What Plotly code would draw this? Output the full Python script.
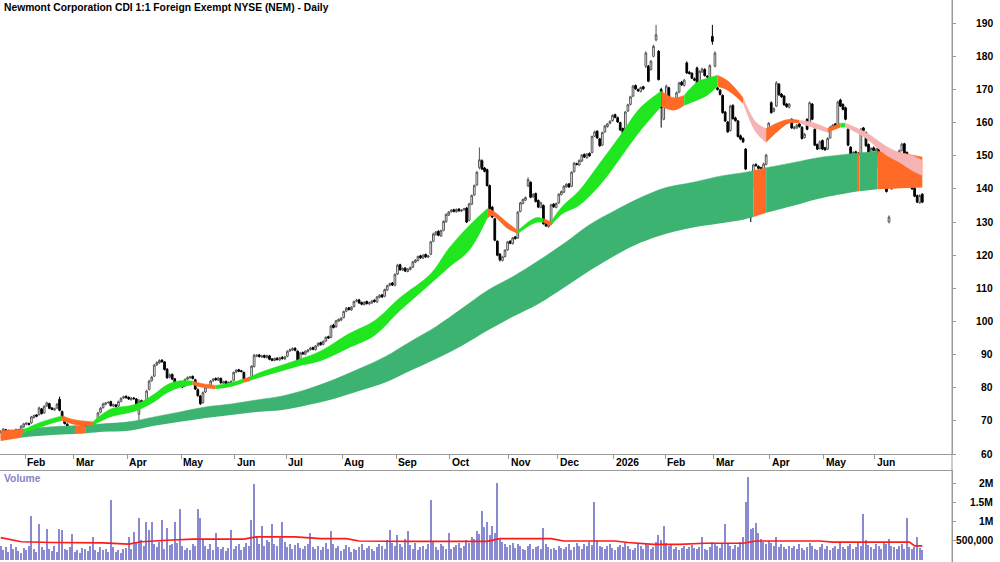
import pandas as pd
import plotly.graph_objects as go

# ---------------- data ----------------
opens = [
66.5, 66.9, 67.3, 66.5, 67.0, 66.4, 66.8, 67.3, 66.9, 68.2,
69.0, 69.2, 69.4, 71.0, 71.8, 71.9, 73.6, 72.4, 74.5, 75.2,
73.9, 73.3, 73.9, 76.5, 72.8, 70.8, 69.0, 68.2, 67.5, 68.1,
68.2, 67.9, 68.3, 68.7, 68.5, 69.1, 68.8, 69.4, 70.0, 72.6,
74.0, 75.0, 75.5, 75.8, 74.5, 74.8, 74.5, 75.9, 76.9, 77.4,
77.1, 76.4, 76.9, 76.6, 72.0, 76.1, 75.6, 75.6, 79.5, 82.2,
83.5, 86.9, 87.5, 88.3, 87.8, 85.6, 83.2, 84.0, 82.7, 81.4,
81.1, 80.8, 80.5, 82.6, 83.0, 83.4, 82.4, 79.4, 77.5, 75.5,
78.7, 80.3, 80.7, 82.1, 82.8, 82.3, 82.8, 81.4, 81.9, 81.1,
81.5, 82.2, 84.7, 85.4, 85.1, 84.6, 82.6, 82.2, 83.4, 86.4,
89.5, 89.9, 89.3, 89.7, 89.1, 89.6, 88.7, 88.2, 88.9, 88.4,
89.2, 88.7, 89.5, 91.1, 91.4, 91.9, 91.0, 88.6, 90.6, 90.1,
90.9, 91.5, 92.1, 91.5, 92.7, 93.6, 93.1, 94.1, 95.4, 95.2,
98.9, 98.4, 100.1, 100.4, 101.2, 103.1, 104.1, 103.5, 104.5, 106.1,
106.5, 105.7, 105.1, 106.0, 105.3, 105.6, 106.4, 105.9, 107.3, 108.0,
107.6, 109.5, 110.9, 111.6, 110.9, 114.3, 117.1, 115.5, 116.1, 115.1,
115.7, 116.4, 117.9, 118.4, 119.8, 119.1, 120.2, 119.4, 120.3, 124.2,
126.2, 127.2, 125.8, 127.5, 130.1, 132.1, 133.1, 133.7, 133.1, 133.9,
133.3, 133.7, 134.2, 130.5, 135.4, 138.2, 141.2, 146.5, 148.5, 146.3,
145.8, 141.0, 134.5, 131.0, 124.2, 120.3, 118.4, 119.6, 121.6, 124.2,
123.5, 125.5, 125.2, 133.2, 135.6, 136.6, 141.0, 142.0, 137.6, 138.6,
136.5, 134.4, 135.0, 129.8, 128.6, 129.6, 135.4, 134.4, 135.8, 138.3,
139.0, 140.6, 141.5, 140.8, 145.2, 147.6, 147.2, 148.4, 150.4, 149.4,
150.7, 151.0, 155.9, 157.4, 155.1, 153.2, 157.2, 158.8, 159.8, 160.6,
162.4, 161.5, 160.0, 158.2, 157.2, 163.5, 165.5, 168.0, 171.2, 170.0,
169.4, 170.8, 177.0, 177.0, 176.0, 180.0, 185.0, 181.5, 170.0, 161.0,
167.2, 170.5, 166.2, 165.4, 166.4, 169.2, 172.2, 171.2, 178.0, 175.2,
174.9, 173.2, 176.5, 167.8, 175.3, 176.0, 174.0, 173.6, 186.0, 177.0,
170.5, 169.8, 168.2, 163.2, 160.2, 157.6, 165.2, 161.4, 160.5, 156.0,
155.2, 152.0, 139.5, 137.0, 141.0, 147.4, 146.8, 146.4, 145.6, 147.4,
156.5, 166.0, 163.4, 165.0, 171.6, 168.6, 168.0, 165.6, 164.6, 161.0,
158.2, 158.4, 159.6, 158.6, 155.5, 161.0, 160.0, 165.6, 158.0, 153.4,
152.2, 154.6, 152.4, 152.0, 155.4, 158.4, 159.6, 159.0, 166.8, 165.5,
164.5, 158.0, 152.6, 149.4, 151.2, 150.8, 150.4, 158.4, 157.0, 153.4,
147.4, 152.4, 146.4, 152.4, 150.6, 149.8, 141.4, 130.0, 140.0, 145.5,
149.2, 150.4, 151.6, 153.6, 151.0, 147.2, 143.2, 140.2, 138.0, 135.8, 138.4]

highs = [
67.1, 67.8, 67.6, 67.4, 67.3, 67.1, 67.7, 67.6, 68.7, 69.4,
69.6, 69.5, 71.5, 71.9, 72.0, 74.3, 73.9, 74.7, 75.8, 75.5,
74.2, 74.0, 75.4, 77.3, 73.1, 71.2, 69.3, 68.5, 68.3, 68.6,
68.5, 68.4, 68.9, 68.9, 69.3, 69.4, 69.5, 69.9, 72.7, 74.2,
75.5, 75.7, 75.9, 76.1, 75.2, 75.1, 76.1, 77.1, 77.6, 77.7,
77.4, 77.2, 77.2, 76.9, 76.6, 76.4, 75.9, 79.4, 82.4, 83.6,
87.2, 88.0, 88.6, 88.6, 88.0, 85.9, 84.3, 84.3, 82.9, 81.7,
81.4, 81.1, 82.8, 83.4, 83.6, 83.7, 82.7, 79.8, 77.8, 78.9,
80.5, 80.9, 82.3, 82.9, 83.1, 83.2, 83.1, 82.1, 82.2, 81.9,
82.2, 84.9, 85.6, 85.7, 85.4, 84.9, 82.9, 83.3, 86.8, 90.2,
90.1, 90.2, 89.9, 90.0, 90.0, 89.9, 88.9, 89.1, 89.2, 89.3,
89.5, 89.6, 91.3, 91.8, 92.2, 92.2, 91.3, 90.8, 90.9, 91.3,
91.7, 92.3, 92.4, 92.9, 93.7, 93.9, 94.3, 95.5, 95.7, 99.0,
99.3, 100.5, 100.9, 101.3, 103.3, 104.4, 104.4, 104.6, 106.3, 106.8,
106.8, 106.0, 106.1, 106.3, 106.0, 106.5, 106.7, 107.7, 108.2, 108.3,
109.9, 111.1, 111.7, 111.9, 114.5, 117.4, 117.4, 116.3, 116.4, 116.1,
116.6, 118.3, 118.8, 119.9, 120.1, 120.3, 120.5, 120.1, 124.3, 126.8,
127.3, 127.5, 127.7, 130.5, 132.6, 133.3, 133.9, 134.0, 134.1, 134.2,
133.9, 134.3, 134.5, 135.8, 138.3, 141.3, 145.4, 152.5, 148.9, 146.6,
146.1, 141.3, 134.8, 131.3, 124.5, 120.6, 119.8, 121.8, 124.3, 124.5,
125.5, 125.8, 133.3, 136.1, 137.1, 137.7, 143.5, 142.3, 138.7, 138.9,
136.8, 136.1, 135.3, 130.1, 129.7, 135.5, 135.7, 135.9, 138.7, 139.5,
141.1, 141.7, 141.8, 145.3, 148.1, 147.9, 148.9, 150.5, 150.7, 150.8,
151.0, 156.1, 157.6, 157.7, 155.4, 157.3, 159.3, 159.9, 160.7, 162.5,
162.7, 161.8, 160.3, 158.5, 163.5, 165.7, 168.1, 171.4, 171.5, 170.3,
170.9, 171.1, 181.5, 177.4, 178.9, 183.5, 189.5, 181.9, 170.5, 167.5,
171.5, 170.8, 166.5, 166.6, 169.4, 172.3, 172.6, 173.2, 178.5, 175.6,
175.2, 173.6, 176.9, 175.8, 176.6, 176.4, 174.3, 177.6, 189.5, 181.5,
170.8, 170.1, 168.5, 163.5, 160.5, 165.4, 165.5, 161.8, 160.8, 156.4,
155.6, 152.3, 144.2, 138.0, 147.6, 147.7, 147.1, 146.7, 147.9, 150.6,
160.2, 166.4, 164.6, 172.5, 171.9, 168.9, 168.3, 165.9, 165.9, 161.3,
159.0, 159.6, 160.0, 158.9, 156.9, 161.3, 166.4, 165.9, 158.3, 153.7,
154.6, 154.9, 152.7, 155.6, 159.0, 159.6, 159.9, 166.6, 167.2, 165.8,
164.8, 158.3, 152.9, 151.4, 151.5, 151.1, 158.4, 158.7, 157.3, 153.7,
152.6, 152.8, 152.4, 152.7, 150.9, 150.1, 141.7, 132.0, 145.4, 149.4,
150.6, 151.9, 153.9, 153.9, 151.3, 147.5, 143.5, 140.5, 138.3, 138.4, 138.7]

lows = [
66.2, 66.6, 66.1, 66.3, 66.0, 66.1, 66.5, 66.4, 66.6, 67.9,
68.7, 68.6, 69.1, 70.7, 71.1, 71.6, 71.9, 72.1, 74.2, 73.5,
73.2, 73.0, 73.6, 72.9, 70.7, 68.9, 67.8, 67.3, 67.2, 67.8,
67.5, 67.6, 68.0, 68.1, 68.2, 68.4, 68.5, 69.1, 69.7, 72.3,
73.7, 74.7, 75.2, 74.3, 74.2, 74.0, 74.2, 75.6, 76.6, 76.7,
76.3, 76.1, 76.4, 74.3, 68.5, 75.2, 75.0, 75.3, 79.2, 81.8,
83.2, 86.6, 87.2, 87.5, 85.2, 82.7, 82.8, 82.3, 81.0, 80.7,
80.3, 79.9, 80.2, 82.3, 82.7, 82.5, 79.3, 77.3, 74.8, 75.2,
78.4, 80.0, 80.4, 81.8, 82.1, 82.0, 81.2, 81.1, 80.9, 80.8,
81.2, 81.9, 84.4, 84.7, 84.6, 82.2, 81.8, 81.9, 83.1, 86.1,
89.2, 89.1, 89.0, 88.9, 88.8, 88.3, 88.0, 88.0, 88.2, 88.1,
88.5, 88.4, 89.2, 90.8, 91.1, 91.0, 87.9, 88.3, 89.9, 89.8,
90.6, 91.2, 91.3, 91.2, 92.4, 92.7, 92.8, 93.8, 94.7, 94.9,
97.9, 98.1, 99.8, 100.1, 100.9, 102.8, 103.3, 103.2, 104.2, 105.8,
105.3, 104.9, 104.8, 105.1, 105.0, 105.3, 105.7, 105.6, 107.0, 107.1,
107.3, 109.2, 110.6, 110.7, 110.6, 114.0, 115.3, 115.2, 114.9, 114.8,
115.4, 116.1, 117.6, 118.1, 118.9, 118.8, 119.2, 119.1, 120.0, 123.9,
125.9, 125.7, 125.5, 127.2, 129.8, 131.8, 132.8, 132.9, 132.8, 133.1,
133.0, 133.4, 129.7, 130.2, 135.1, 137.9, 140.9, 145.9, 145.7, 145.0,
140.7, 133.7, 131.2, 124.2, 119.7, 118.1, 118.1, 119.3, 121.3, 123.3,
123.2, 124.7, 124.9, 132.9, 135.3, 136.3, 140.5, 137.2, 137.3, 135.9,
134.2, 134.1, 129.2, 128.5, 128.3, 129.3, 134.3, 134.1, 135.5, 138.0,
138.7, 140.3, 140.3, 140.5, 144.9, 147.1, 146.9, 148.1, 149.3, 149.1,
149.7, 150.7, 155.6, 155.1, 152.7, 152.9, 156.9, 158.5, 159.5, 160.3,
161.3, 159.9, 157.5, 156.7, 156.9, 163.2, 165.2, 167.7, 169.9, 169.3,
169.1, 169.9, 176.5, 172.2, 175.7, 179.7, 184.5, 172.7, 158.5, 160.7,
166.9, 165.7, 165.3, 165.1, 166.1, 168.9, 171.1, 170.9, 174.7, 174.5,
173.1, 172.5, 167.2, 167.5, 175.0, 173.9, 173.5, 173.3, 183.5, 176.7,
169.7, 168.2, 162.7, 160.2, 156.9, 157.3, 160.9, 160.3, 155.5, 154.7,
153.9, 145.7, 139.2, 130.0, 140.7, 146.7, 145.9, 145.5, 145.3, 147.1,
156.2, 162.7, 163.1, 164.7, 168.1, 167.5, 165.1, 164.5, 164.3, 158.1,
157.9, 158.1, 158.5, 154.9, 155.2, 157.7, 159.7, 160.7, 152.9, 151.7,
151.9, 151.7, 151.5, 151.7, 155.1, 158.1, 158.5, 158.7, 164.7, 163.7,
160.7, 152.9, 148.9, 149.1, 150.3, 149.9, 150.1, 157.3, 152.7, 146.7,
147.1, 151.3, 146.1, 150.1, 149.7, 140.7, 138.9, 129.6, 139.7, 145.2,
148.9, 150.1, 151.3, 149.7, 146.7, 142.7, 139.7, 137.5, 135.7, 135.5, 135.7]

closes = [
66.8, 67.5, 66.4, 67.1, 66.3, 66.9, 67.4, 66.7, 68.4, 69.1,
69.3, 68.9, 71.2, 71.6, 71.4, 73.9, 72.2, 74.4, 75.4, 73.8,
73.5, 73.7, 75.0, 73.2, 71.0, 69.2, 68.1, 67.6, 68.0, 68.3,
67.8, 68.2, 68.6, 68.4, 69.0, 68.7, 69.3, 69.6, 72.4, 73.8,
75.1, 75.4, 75.6, 74.6, 74.9, 74.3, 75.8, 76.8, 77.3, 77.0,
76.6, 76.9, 76.7, 74.6, 76.0, 75.5, 75.3, 79.0, 82.0, 83.2,
86.8, 87.6, 88.2, 87.9, 85.5, 83.0, 83.9, 82.6, 81.3, 81.0,
80.6, 80.2, 82.5, 83.1, 83.3, 82.8, 79.6, 77.6, 75.2, 78.5,
80.2, 80.6, 82.0, 82.6, 82.4, 82.9, 81.5, 81.8, 81.2, 81.6,
81.9, 84.6, 85.3, 85.0, 84.9, 82.5, 82.1, 83.0, 86.5, 89.8,
89.8, 89.4, 89.6, 89.2, 89.7, 88.6, 88.3, 88.8, 88.5, 89.0,
88.8, 89.3, 91.0, 91.5, 91.8, 91.3, 88.2, 90.5, 90.2, 91.0,
91.4, 92.0, 91.6, 92.6, 93.4, 93.0, 94.0, 95.2, 95.0, 98.6,
98.2, 100.2, 100.6, 101.0, 103.0, 104.0, 103.6, 104.3, 106.0, 106.4,
105.6, 105.2, 105.8, 105.4, 105.7, 106.2, 106.0, 107.4, 107.9, 107.4,
109.6, 110.8, 111.4, 111.0, 114.2, 117.0, 115.6, 116.0, 115.2, 115.8,
116.3, 118.0, 118.5, 119.6, 119.2, 120.0, 119.5, 119.8, 124.0, 126.4,
127.0, 126.0, 127.4, 130.2, 132.3, 133.0, 133.6, 133.2, 133.8, 133.4,
133.6, 134.0, 130.0, 135.5, 138.0, 141.0, 145.0, 148.8, 146.0, 145.3,
141.0, 134.0, 131.5, 124.5, 120.0, 118.6, 119.5, 121.5, 124.0, 123.6,
125.2, 125.0, 133.0, 135.8, 136.8, 137.4, 142.8, 137.5, 138.4, 136.2,
134.5, 135.8, 129.5, 128.8, 129.4, 135.2, 134.6, 135.6, 138.4, 139.2,
140.8, 141.4, 140.6, 145.0, 147.8, 147.4, 148.6, 150.2, 149.6, 150.5,
150.0, 155.8, 157.2, 155.4, 153.0, 157.0, 159.0, 159.6, 160.4, 162.2,
161.6, 160.2, 157.8, 157.0, 163.2, 165.4, 167.8, 171.0, 170.2, 169.6,
170.6, 170.2, 181.0, 172.5, 178.5, 183.0, 186.5, 173.0, 164.5, 167.0,
171.0, 166.0, 165.6, 166.2, 169.0, 172.0, 171.4, 172.8, 175.0, 174.8,
173.4, 172.8, 167.5, 175.5, 176.2, 174.2, 173.8, 177.2, 184.5, 181.0,
170.0, 168.5, 163.0, 160.5, 157.2, 165.0, 161.2, 160.6, 155.8, 155.0,
154.2, 146.0, 143.8, 131.5, 147.2, 147.0, 146.2, 145.8, 147.5, 150.2,
159.8, 163.0, 164.2, 172.0, 168.4, 167.8, 165.4, 164.8, 165.6, 158.4,
158.6, 159.2, 158.8, 155.2, 156.5, 158.0, 166.0, 161.0, 153.2, 152.0,
154.2, 152.0, 151.8, 155.2, 158.6, 159.2, 158.8, 166.2, 165.0, 164.0,
161.0, 153.2, 149.2, 151.0, 150.6, 150.2, 158.0, 157.6, 153.0, 147.0,
152.2, 151.6, 152.0, 150.4, 150.0, 141.0, 139.2, 131.5, 145.0, 149.0,
150.2, 151.5, 153.5, 150.0, 147.0, 143.0, 140.0, 137.8, 136.0, 138.0, 136.0]

# daily volume, thousands of shares
volume_k = [
380, 260, 330, 210, 420, 300, 350, 240, 180, 310,
270, 360, 1160, 290, 220, 950, 330, 260, 820, 300,
240, 380, 210, 820, 800, 300, 260, 340, 680, 220,
250, 190, 310, 280, 230, 360, 600, 270, 200, 330,
260, 300, 220, 1580, 340, 210, 250, 180, 290, 320,
600, 280, 730, 450, 1100, 520, 380, 1000, 800, 1000,
420, 350, 480, 1050, 300, 850, 390, 410, 1000, 460,
1340, 380, 250, 320, 270, 430, 360, 1340, 1100, 520,
380, 300, 420, 260, 700, 330, 280, 350, 240, 310,
800, 290, 360, 410, 270, 330, 450, 380, 1050, 2000,
620, 430, 900, 380, 520, 470, 950, 410, 360, 580,
1000, 480, 350, 420, 300, 390, 440, 320, 280, 360,
410, 700, 330, 290, 380, 260, 340, 450, 300, 750,
420, 310, 360, 240, 280, 390, 330, 220, 300, 270,
350, 410, 260, 310, 380, 290, 240, 330, 420, 360,
300, 520, 800, 460, 380, 650, 420, 350, 540, 750,
390, 300, 450, 260, 340, 380, 290, 410, 1580, 480,
330, 270, 420, 360, 300, 700, 280, 340, 390, 450,
310, 380, 520, 440, 600, 560, 750, 680, 1300, 880,
1000, 650, 900, 720, 2030, 560, 480, 420, 350, 390,
460, 310, 420, 380, 300, 270, 360, 410, 290, 330,
380, 300, 850, 420, 340, 280, 320, 260, 370, 310,
290, 350, 410, 270, 330, 460, 380, 300, 420, 360,
480, 400, 1520, 520, 380, 340, 290, 360, 420, 310,
270, 350, 400, 330, 460, 380, 300, 250, 320, 410,
360, 280, 420, 390, 300, 350, 480, 650, 520, 900,
460, 380, 420, 300, 340, 260, 310, 370, 290, 350,
400, 320, 280, 340, 600, 300, 260, 350, 480, 420,
380, 310, 450, 950, 420, 360, 290, 400, 330, 480,
600, 1520, 2180, 820, 850, 970, 700, 560, 480, 420,
510, 440, 380, 600, 350, 410, 330, 290, 380, 320,
360, 280, 420, 310, 260, 340, 450, 380, 300, 270,
330, 410, 290, 360, 250, 310, 380, 300, 440, 350,
280, 360, 420, 300, 330, 460, 380, 1200, 520, 400,
350, 300, 420, 380, 290, 470, 410, 560, 380, 330,
300, 360, 420, 280, 1100, 330, 290, 350, 600, 310, 260]

# volume moving-average line (thousands), read at sample days
vma_day = [0, 8, 20, 40, 50, 55, 65, 75, 95, 100, 115, 125, 135, 140, 160, 190,
           195, 215, 220, 240, 245, 255, 265, 275, 290, 295, 320, 325, 355, 357, 360]
vma_k = [590, 480, 460, 450, 420, 480, 520, 550, 550, 610, 610, 560, 560, 500, 490, 490,
         560, 560, 500, 500, 460, 410, 410, 440, 440, 500, 500, 470, 470, 370, 370]

# short-term moving-average ribbon (upper / lower edge) read at sample days
short_day = [0, 4, 9, 15, 21, 24, 29, 36, 43, 50, 54, 60, 65, 70, 75, 79, 84, 90, 95, 97,
             101, 109, 117, 125, 136, 146, 156, 168, 175, 183, 190, 192, 198, 202, 209, 212,
             215, 219, 226, 234, 242, 250, 258, 263, 267, 272, 276, 280, 284, 290, 295, 299,
             304, 308, 312, 317, 323, 328, 330, 338, 346, 351, 356, 360]
short_top = [66.3, 66.7, 67.3, 69.4, 70.9, 71.5, 70.3, 69.7, 73.6, 74.5, 75.4, 78.1, 80.9,
             82.1, 82.0, 81.2, 80.7, 81.5, 82.7, 83.1, 84.5, 86.6, 88.7, 91.1, 96.3, 100.2,
             107.2, 114.4, 122.0, 128.9, 134.0, 133.5, 129.8, 127.4, 131.3, 131.0, 130.1,
             134.4, 139.5, 147.7, 156.1, 164.6, 169.5, 167.5, 168.2, 172.2, 173.4, 174.3,
             172.6, 167.5, 160.1, 158.2, 160.1, 161.0, 160.7, 160.1, 158.2, 159.8, 159.8,
             157.0, 152.8, 151.0, 150.1, 148.6]
short_bot = [64.5, 65.1, 66.3, 67.9, 69.4, 70.0, 68.8, 68.6, 71.2, 72.4, 73.3, 75.7, 78.4,
             80.0, 80.8, 80.0, 79.6, 80.3, 81.5, 82.0, 83.0, 84.8, 86.6, 88.1, 92.0, 95.7,
             103.2, 111.4, 116.2, 121.4, 131.0, 131.9, 128.0, 126.5, 129.8, 129.8, 128.9,
             132.2, 135.0, 141.0, 149.2, 157.6, 164.8, 163.7, 165.2, 166.7, 168.2, 170.9,
             169.7, 165.8, 157.0, 154.0, 157.6, 159.8, 159.8, 158.5, 157.0, 158.5, 158.6,
             155.2, 150.1, 148.0, 145.5, 144.0]
# colour state of the short ribbon: (first day, last day, state)
short_state = [(0, 9, "down"), (9, 24, "up"), (24, 36, "down"), (36, 75, "up"),
               (75, 84, "down"), (84, 95, "up"), (95, 97, "down"), (97, 190, "up"),
               (190, 202, "down"), (202, 212, "up"), (212, 215, "down"), (215, 258, "up"),
               (258, 267, "down"), (267, 280, "up"), (280, 290, "down"), (290, 299, "weak"),
               (299, 312, "down"), (312, 323, "weak"), (323, 328, "down"), (328, 330, "up"),
               (330, 360, "weak")]

# long-term moving-average ribbon
long_day = [0, 8, 10, 20, 29, 33, 40, 50, 60, 70, 80, 90, 100, 110, 120, 130, 140, 150,
            160, 170, 180, 190, 200, 210, 220, 230, 240, 250, 260, 270, 280, 290, 294, 299,
            310, 320, 330, 334.5, 335.5, 342.5, 350, 360]
long_top = [67.0, 67.5, 67.6, 68.2, 68.5, 68.7, 69.1, 69.7, 71.2, 72.7, 74.2, 75.1, 76.3,
            77.5, 79.6, 82.4, 85.7, 89.3, 93.9, 98.4, 103.8, 109.3, 113.5, 118.3, 123.5,
            129.2, 133.5, 137.4, 140.4, 141.9, 143.7, 144.9, 145.5, 146.4, 148.0, 149.5,
            150.4, 150.8, 150.9, 151.3, 151.0, 149.6]
long_bot = [63.9, 64.9, 65.1, 65.7, 66.0, 66.2, 66.7, 67.0, 68.5, 69.7, 70.9, 71.8, 72.7,
            73.3, 74.8, 76.6, 79.0, 81.5, 85.1, 88.7, 92.6, 97.2, 101.4, 105.3, 110.2,
            115.3, 119.9, 123.8, 126.5, 128.3, 129.5, 130.7, 131.5, 132.8, 135.0, 137.1,
            138.6, 139.2, 139.3, 139.9, 140.1, 140.4]
long_state = [(0, 8, "down"), (8, 29, "up"), (29, 33, "down"), (33, 294, "up"),
              (294, 299, "down"), (299, 334.5, "up"), (334.5, 335.5, "down"),
              (335.5, 342.5, "up"), (342.5, 360, "down")]

price_ticks = [60, 70, 80, 90, 100, 110, 120, 130, 140, 150, 160, 170, 180, 190]
vol_ticks = [500, 1000, 1500, 2000]
vol_tick_text = ["500,000", "1M", "1.5M", "2M"]
month_names = ["Jan", "Feb", "Mar", "Apr", "May", "Jun", "Jul", "Aug", "Sep", "Oct", "Nov", "Dec"]
holidays = ["2025-01-20", "2025-02-17", "2025-04-18", "2025-05-26", "2025-06-19",
            "2025-07-04", "2025-09-01", "2025-11-27", "2025-12-25", "2026-01-01",
            "2026-01-19", "2026-02-16", "2026-04-03", "2026-05-25", "2026-06-19"]
TITLE = "Newmont Corporation CDI 1:1 Foreign Exempt NYSE (NEM) - Daily"

# ---------------- styling ----------------
FONT = "Liberation Sans Narrow, Arial Narrow, Liberation Sans, Arial, sans-serif"
FS = 10.3
AXIS = "#9a9a9a"
SHORT_COL = {"up": "#1fe61f", "down": "#ff6a27", "weak": "#f5b3b3"}
LONG_COL = {"up": "#3cb371", "down": "#ff6a27"}
VOL_COL = "#8a8ad2"

n = len(closes)
assert len(opens) == n and len(highs) == n and len(lows) == n and len(volume_k) == n, \
    (len(opens), len(highs), len(lows), len(closes), len(volume_k))
days = list(range(n))
dates = pd.date_range("2025-01-17", periods=n,
                      freq=pd.offsets.CustomBusinessDay(holidays=holidays))
month_first = [i for i in range(1, n) if dates[i].month != dates[i - 1].month]
month_label = [str(dates[i].year) if dates[i].month == 1 else month_names[dates[i].month - 1]
               for i in month_first]
month_edge = [i - 0.5 for i in month_first]

fig = go.Figure()


def add_ribbon(xs, tops, bots, states, palette):
    for a, b, st in states:
        sel = [k for k, d in enumerate(xs) if a <= d <= b]
        sx = [xs[k] for k in sel]
        fig.add_trace(go.Scatter(x=sx, y=[bots[k] for k in sel], mode="lines",
                                 line=dict(width=0, shape="spline", color=palette[st]),
                                 hoverinfo="skip", showlegend=False))
        fig.add_trace(go.Scatter(x=sx, y=[tops[k] for k in sel], mode="lines",
                                 line=dict(width=0.5, shape="spline", color=palette[st]),
                                 fill="tonexty", fillcolor=palette[st],
                                 hoverinfo="skip", showlegend=False))


add_ribbon(long_day, long_top, long_bot, long_state, LONG_COL)
add_ribbon(short_day, short_top, short_bot, short_state, SHORT_COL)

fig.add_trace(go.Candlestick(
    x=days, open=opens, high=highs, low=lows, close=closes,
    increasing=dict(line=dict(color="#555555", width=1), fillcolor="#ffffff"),
    decreasing=dict(line=dict(color="#000000", width=1), fillcolor="#000000"),
    whiskerwidth=0, showlegend=False, xaxis="x", yaxis="y"))

fig.add_trace(go.Bar(x=days, y=volume_k, width=0.5, marker=dict(color=VOL_COL, line=dict(width=0)),
                     xaxis="x2", yaxis="y2", showlegend=False))
fig.add_trace(go.Scatter(x=vma_day, y=vma_k, mode="lines", line=dict(color="#ff1a1a", width=1.7),
                         xaxis="x2", yaxis="y2", showlegend=False))

W, H = 1000, 562
plot_right = 952
price_bottom_px = 454
vol_top_px = 471
price_dom = [(H - price_bottom_px) / H, 1]
vol_dom = [0, (H - vol_top_px) / H]
xr = [-0.27, 371.6]

fig.update_layout(
    width=W, height=H, margin=dict(l=0, r=W - plot_right, t=0, b=0),
    paper_bgcolor="white", plot_bgcolor="white", showlegend=False,
    font=dict(family=FONT, size=FS, color="black"),
    bargap=0, boxgap=0.05,
    xaxis=dict(domain=[0, 1], range=xr, anchor="y", showgrid=False, zeroline=False,
               showline=True, linecolor=AXIS, linewidth=1, ticks="outside", ticklen=4,
               tickcolor=AXIS, tickvals=month_edge, showticklabels=False,
               rangeslider=dict(visible=False)),
    yaxis=dict(domain=price_dom, range=[60, 197.0], side="right", showgrid=False,
               zeroline=False, showline=True, linecolor=AXIS, linewidth=1, ticks="outside",
               ticklen=3, tickcolor=AXIS, tickvals=price_ticks, showticklabels=False),
    xaxis2=dict(domain=[0, 1], range=xr, anchor="y2", matches="x", side="top", showgrid=False,
                zeroline=False, showline=True, linecolor=AXIS, linewidth=1, ticks="",
                showticklabels=False),
    yaxis2=dict(domain=vol_dom, range=[-53, 2342], side="right", showgrid=False,
                zeroline=False, showline=True, linecolor=AXIS, linewidth=1, ticks="outside",
                ticklen=3, tickcolor=AXIS, tickvals=vol_ticks, showticklabels=False),
)

label_x = 995 / plot_right
bold = dict(family=FONT, size=FS, color="black", weight="bold")
ann = []
for v in price_ticks:
    ann.append(dict(x=label_x, xref="paper", y=v, yref="y", text=str(v), showarrow=False,
                    xanchor="right", yanchor="middle", font=bold))
for v, t in zip(vol_ticks, vol_tick_text):
    ann.append(dict(x=label_x, xref="paper", y=v, yref="y2", text=t, showarrow=False,
                    xanchor="right", yanchor="middle", font=bold))
for e, t in zip(month_edge, month_label):
    ann.append(dict(x=e, xref="x", y=price_dom[0], yref="paper", text=t, showarrow=False,
                    xanchor="left", yanchor="top", xshift=0, yshift=-1, font=bold))
ann.append(dict(x=0, xref="paper", y=1, yref="paper", text=TITLE, showarrow=False,
                xanchor="left", yanchor="top", xshift=2, yshift=0, font=bold))
ann.append(dict(x=0, xref="paper", y=vol_dom[1], yref="paper", text="Volume", showarrow=False,
                xanchor="left", yanchor="top", xshift=2, yshift=0,
                font=dict(family=FONT, size=FS, color="#8585c8", weight="bold")))
fig.update_layout(annotations=ann)
fig.add_shape(type="line", xref="paper", yref="paper", x0=1, x1=1, y0=0, y1=1,
              line=dict(color=AXIS, width=1))

fig.write_html("out.html")
